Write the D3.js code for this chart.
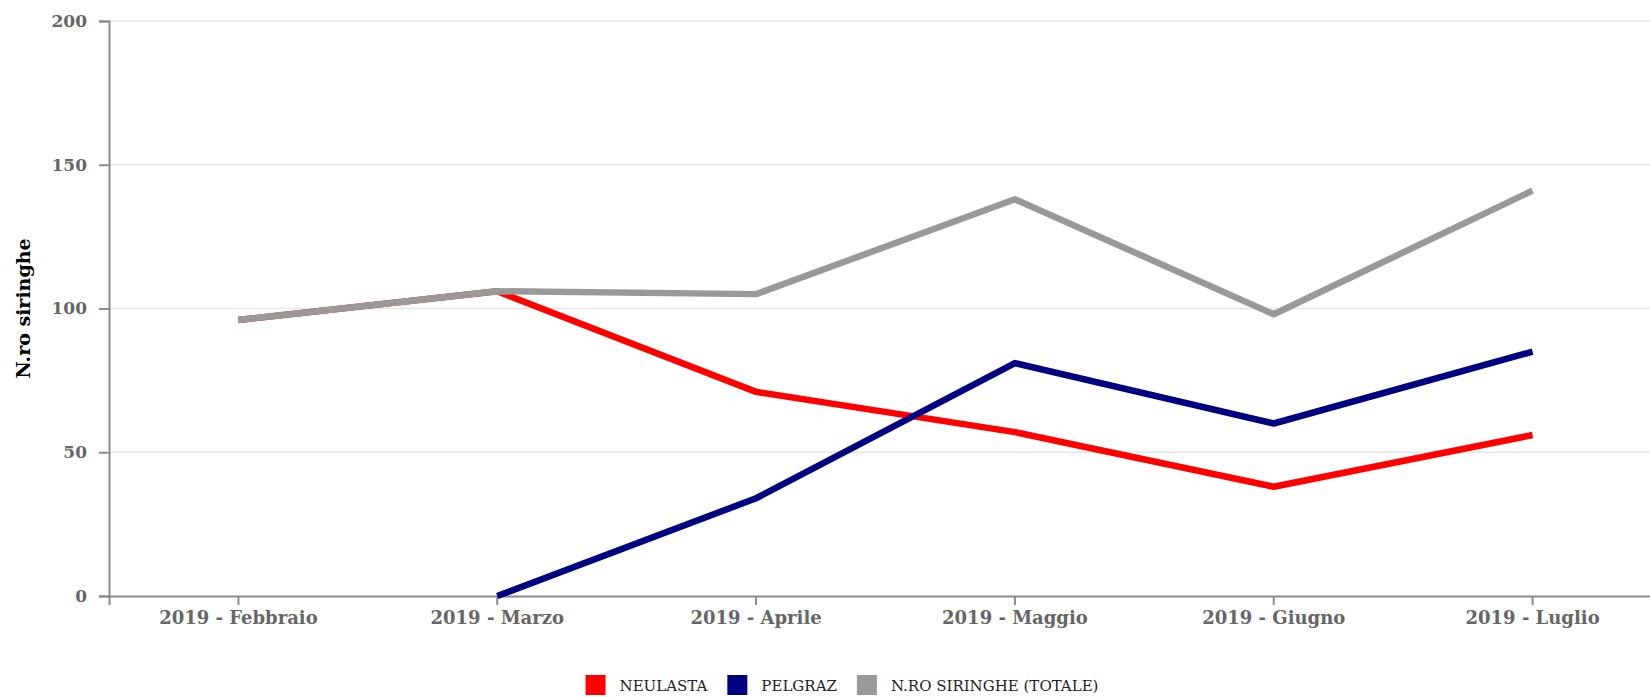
<!DOCTYPE html>
<html>
<head>
<meta charset="utf-8">
<script src="https://cdn.jsdelivr.net/npm/d3@7"></script>
<style>
  html, body { margin: 0; padding: 0; background: #fff; overflow: hidden; }
  .axis text { font-family: "DejaVu Serif", serif; font-weight: bold; fill: #666; }
  .axis path, .axis line { stroke: #8c8c8c; stroke-width: 2; }
</style>
</head>
<body>
<svg id="chart" width="1650" height="697"></svg>
<script>
// data
const months = ['2019 - Febbraio', '2019 - Marzo', '2019 - Aprile', '2019 - Maggio', '2019 - Giugno', '2019 - Luglio'];
const neulasta = [96, 106, 71, 57, 38, 56];
const pelgraz = [null, 0, 34, 81, 60, 85];
const totale = [96, 106, 105, 138, 98, 141];
const yTicks = [0, 50, 100, 150, 200];
const seriesNames = ['NEULASTA', 'PELGRAZ', 'N.RO SIRINGHE (TOTALE)'];
const seriesColors = ['#ff0000', '#000080', '#999999'];

const svg = d3.select('#chart');
const plotLeft = 109, plotRight = 1662, plotTop = 21, plotBottom = 596;

const x = d3.scaleBand().domain(months).range([plotLeft, plotRight]).padding(0);
const y = d3.scaleLinear().domain([0, 200]).range([plotBottom, plotTop]);

// gridlines
svg.append('g')
  .selectAll('line')
  .data(yTicks.slice(1))
  .enter()
  .append('line')
  .attr('x1', plotLeft)
  .attr('x2', 1650)
  .attr('y1', d => y(d))
  .attr('y2', d => y(d))
  .attr('stroke', '#e6e6e6')
  .attr('stroke-width', 1.5);

// axes
svg.append('g')
  .attr('class', 'axis')
  .attr('transform', `translate(${plotLeft},0)`)
  .call(d3.axisLeft(y).tickValues(yTicks).tickSize(10).tickPadding(12))
  .selectAll('text')
  .style('font-size', '17px');

svg.append('g')
  .attr('class', 'axis')
  .attr('transform', `translate(0,${plotBottom})`)
  .call(d3.axisBottom(x).tickSize(9).tickPadding(6))
  .selectAll('text')
  .style('font-size', '18px');

// y title
svg.append('text')
  .attr('transform', `translate(30,${(plotTop + plotBottom) / 2}) rotate(-90)`)
  .attr('text-anchor', 'middle')
  .style('font-family', '"DejaVu Serif", serif')
  .style('font-weight', 'bold')
  .style('font-size', '19px')
  .attr('fill', '#000')
  .text('N.ro siringhe');

// lines
const line = d3.line()
  .defined(d => d != null)
  .x((d, i) => x(months[i]) + x.bandwidth() / 2)
  .y(d => y(d));

[neulasta, pelgraz, totale].forEach((values, i) => {
  svg.append('path')
    .datum(values)
    .attr('fill', 'none')
    .attr('stroke', seriesColors[i])
    .attr('stroke-width', 6.5)
    .attr('stroke-linejoin', 'round')
    .attr('d', line);
});

// legend
const legend = svg.append('g');
let lx = 0;
seriesNames.forEach((name, i) => {
  const g = legend.append('g').attr('transform', `translate(${lx},0)`);
  g.append('rect')
    .attr('x', 0).attr('y', 675)
    .attr('width', 20).attr('height', 20)
    .attr('fill', seriesColors[i]);
  const t = g.append('text')
    .attr('x', 34).attr('y', 691)
    .style('font-family', '"DejaVu Serif", serif')
    .style('font-size', '15px')
    .attr('fill', '#222')
    .text(name);
  lx += 34 + t.node().getComputedTextLength() + 20;
});
const legendWidth = lx - 20;
legend.attr('transform', `translate(${842 - legendWidth / 2},0)`);
</script>
</body>
</html>
